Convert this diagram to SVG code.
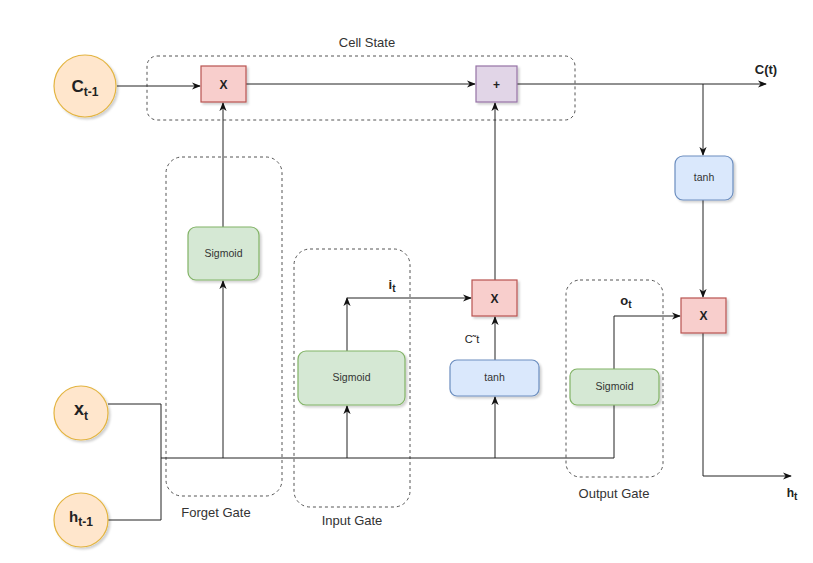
<svg xmlns="http://www.w3.org/2000/svg" width="813" height="563" viewBox="0 0 813 563">
<style>
text{font-family:"Liberation Sans",Arial,sans-serif;fill:#222}
.lbl{font-size:13px;fill:#333;text-anchor:middle}
.sm{font-size:10.5px;fill:#333;text-anchor:middle}
.bx{font-size:12px;font-weight:bold;text-anchor:middle}
.grp{fill:none;stroke:#555;stroke-width:1;stroke-dasharray:3 3}
.circ{fill:#ffe6cc;stroke:#e3b440;stroke-width:1.2}
.red{fill:#f8cecc;stroke:#b85450;stroke-width:1.2}
.pur{fill:#e1d5e7;stroke:#9673a6;stroke-width:1.2}
.grn{fill:#d5e8d4;stroke:#82b366;stroke-width:1.2}
.blu{fill:#dae8fc;stroke:#6c8ebf;stroke-width:1.2}
.ln{fill:none;stroke:#222;stroke-width:1}
.ar{marker-end:url(#arr)}
</style>
<defs>
<marker id="arr" viewBox="0 0 10 10" refX="9" refY="5" markerWidth="9" markerHeight="9" markerUnits="userSpaceOnUse" orient="auto">
<path d="M0,1 L10,5 L0,9 L3,5 z" fill="#111"/>
</marker>
<filter id="sh" x="-20%" y="-20%" width="150%" height="150%">
<feDropShadow dx="2" dy="2" stdDeviation="1.2" flood-color="#000" flood-opacity="0.18"/>
</filter>
</defs>
<g id="groups">
<g id="cell-state"><rect class="grp" x="147" y="56" width="428" height="64" rx="10"/><text class="lbl" x="367" y="47">Cell State</text></g>
<g id="forget-gate"><rect class="grp" x="166" y="157" width="116" height="339" rx="16"/><text class="lbl" x="216" y="517">Forget Gate</text></g>
<g id="input-gate"><rect class="grp" x="294" y="249" width="116" height="258" rx="16"/><text class="lbl" x="352" y="525">Input Gate</text></g>
<g id="output-gate"><rect class="grp" x="566" y="280" width="97" height="197" rx="14"/><text class="lbl" x="614" y="498">Output Gate</text></g>
</g>
<g id="connectors">
<path class="ln ar" d="M117,86 H200"/>
<path class="ln ar" d="M246,84 H475"/>
<path class="ln ar" d="M517,84 H766"/>
<path class="ln ar" d="M703,84 V155"/>
<path class="ln ar" d="M703,200 V297"/>
<path class="ln ar" d="M703,333 V476 H791"/>
<path class="ln" d="M108,404 H161 V520 H108"/>
<path class="ln" d="M161,458 H614 V405"/>
<path class="ln ar" d="M223,458 V281"/>
<path class="ln ar" d="M223,227 V103"/>
<path class="ln ar" d="M347,458 V406"/>
<path class="ln ar" d="M347,351 V298"/>
<path class="ln ar" d="M347,298 H471"/>
<path class="ln ar" d="M495,458 V397"/>
<path class="ln ar" d="M495,360 V317"/>
<path class="ln ar" d="M495,280 V103"/>
<path class="ln ar" d="M614,369 V316 H680"/>
</g>
<g id="c-prev"><circle class="circ" cx="85" cy="86" r="31" filter="url(#sh)"/><text x="85" y="92" text-anchor="middle" font-size="17" font-weight="bold">C<tspan dy="4" font-size="12">t-1</tspan></text></g>
<g id="x-t"><circle class="circ" cx="81" cy="413" r="27" filter="url(#sh)"/><text x="81" y="415" text-anchor="middle" font-size="18" font-weight="bold">x<tspan dy="5" font-size="12">t</tspan></text></g>
<g id="h-prev"><circle class="circ" cx="81" cy="520" r="27" filter="url(#sh)"/><text x="81" y="522" text-anchor="middle" font-size="15" font-weight="bold">h<tspan dy="4" font-size="12">t-1</tspan></text></g>
<g id="mul-forget"><rect class="red" x="201" y="66" width="45" height="36" filter="url(#sh)"/><text class="bx" x="223.5" y="89">X</text></g>
<g id="add-cell"><rect class="pur" x="476" y="66" width="41" height="36" filter="url(#sh)"/><text class="bx" x="496.5" y="89" font-size="14">+</text></g>
<g id="sig-forget"><rect class="grn" x="188" y="227" width="71" height="53" rx="8" filter="url(#sh)"/><text class="sm" x="223.5" y="257">Sigmoid</text></g>
<g id="sig-input"><rect class="grn" x="298" y="351" width="107" height="54" rx="8" filter="url(#sh)"/><text class="sm" x="351.5" y="381">Sigmoid</text></g>
<g id="tanh-input"><rect class="blu" x="450" y="360" width="89" height="36" rx="7" filter="url(#sh)"/><text class="sm" x="494.5" y="381">tanh</text></g>
<g id="mul-input"><rect class="red" x="472" y="280" width="45" height="36" filter="url(#sh)"/><text class="bx" x="494.5" y="303">X</text></g>
<g id="sig-output"><rect class="grn" x="570" y="369" width="89" height="36" rx="7" filter="url(#sh)"/><text class="sm" x="614.5" y="390">Sigmoid</text></g>
<g id="tanh-out"><rect class="blu" x="675" y="156" width="58" height="44" rx="8" filter="url(#sh)"/><text class="sm" x="704" y="181">tanh</text></g>
<g id="mul-out"><rect class="red" x="681" y="298" width="45" height="35" filter="url(#sh)"/><text class="bx" x="703.5" y="320">X</text></g>
<g id="labels">
<text x="766" y="74" text-anchor="middle" font-size="13" font-weight="bold">C(t)</text>
<text x="392" y="289" text-anchor="middle" font-size="13" font-weight="bold">i<tspan dy="3" font-size="10">t</tspan></text>
<text x="472" y="343" text-anchor="middle" font-size="11" fill="#333">C˜t</text>
<text x="626" y="305" text-anchor="middle" font-size="13" font-weight="bold">o<tspan dy="3" font-size="10">t</tspan></text>
<text x="792" y="497" text-anchor="middle" font-size="12" font-weight="bold">h<tspan dy="3" font-size="10">t</tspan></text>
</g>
</svg>
